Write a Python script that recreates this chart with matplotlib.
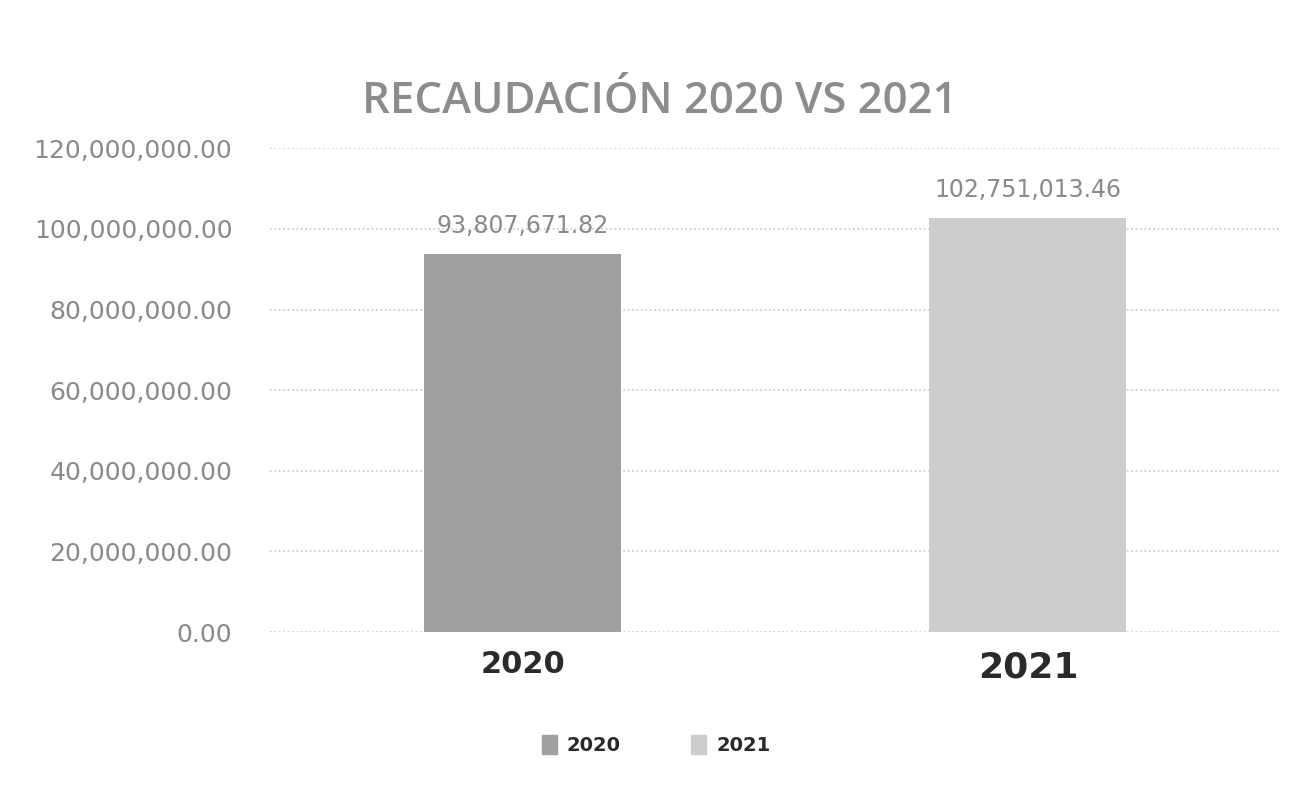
import matplotlib.pyplot as plt
from matplotlib.ticker import FuncFormatter
from matplotlib.patches import Patch

# datos
years = ["2020", "2021"]
recaudacion = [93807671.82, 102751013.46]
colores = ["#a0a0a0", "#cdcdcd"]

fig = plt.figure(figsize=(13.04, 7.93), dpi=100)
ax = fig.add_axes([0.207, 0.203, 0.775, 0.61])

x = list(range(len(years)))
bars = ax.bar(x, recaudacion, width=0.39, color=colores, zorder=2)

ax.set_xlim(-0.5, 1.5)
ax.set_ylim(0, 120000000)
ax.set_yticks(range(0, 120000001, 20000000))
ax.yaxis.set_major_formatter(FuncFormatter(lambda v, p: "{:,.2f}".format(v)))
ax.tick_params(axis="y", length=0, pad=27, labelsize=18, labelcolor="#8a8a8a")
ax.grid(axis="y", color="#c8c8c8", linestyle=":", linewidth=1.2, zorder=0)
for s in ax.spines.values():
    s.set_visible(False)

ax.set_xticks(x)
ax.set_xticklabels([])
ax.tick_params(axis="x", length=0)
# etiquetas de categoria (2021 un poco mas grande)
sizes = [22, 26]
for i, y in enumerate(years):
    ax.text(i, -4500000, y, ha="center", va="top", fontsize=sizes[i],
            fontweight="heavy", color="#2a2a2a")

for b, v in zip(bars, recaudacion):
    ax.text(b.get_x() + b.get_width() / 2, v + 4000000, "{:,.2f}".format(v),
            ha="center", va="bottom", fontsize=17, color="#8a8a8a")

fig.text(0.506, 0.872, "RECAUDACIÓN 2020 VS 2021", ha="center", va="center",
         fontsize=31.5, color="#8c8c8c", family="Open Sans", fontweight="semibold")

handles = [Patch(color=c) for c in colores]
leg = fig.legend(handles, years, loc="center", bbox_to_anchor=(0.503, 0.06),
                 ncol=2, frameon=False, handlelength=0.8, handleheight=1.1,
                 columnspacing=3.6, handletextpad=0.5,
                 prop={"weight": "bold", "size": 14})
for t in leg.get_texts():
    t.set_color("#2a2a2a")

fig.savefig("out.png", dpi=100, facecolor="white")
